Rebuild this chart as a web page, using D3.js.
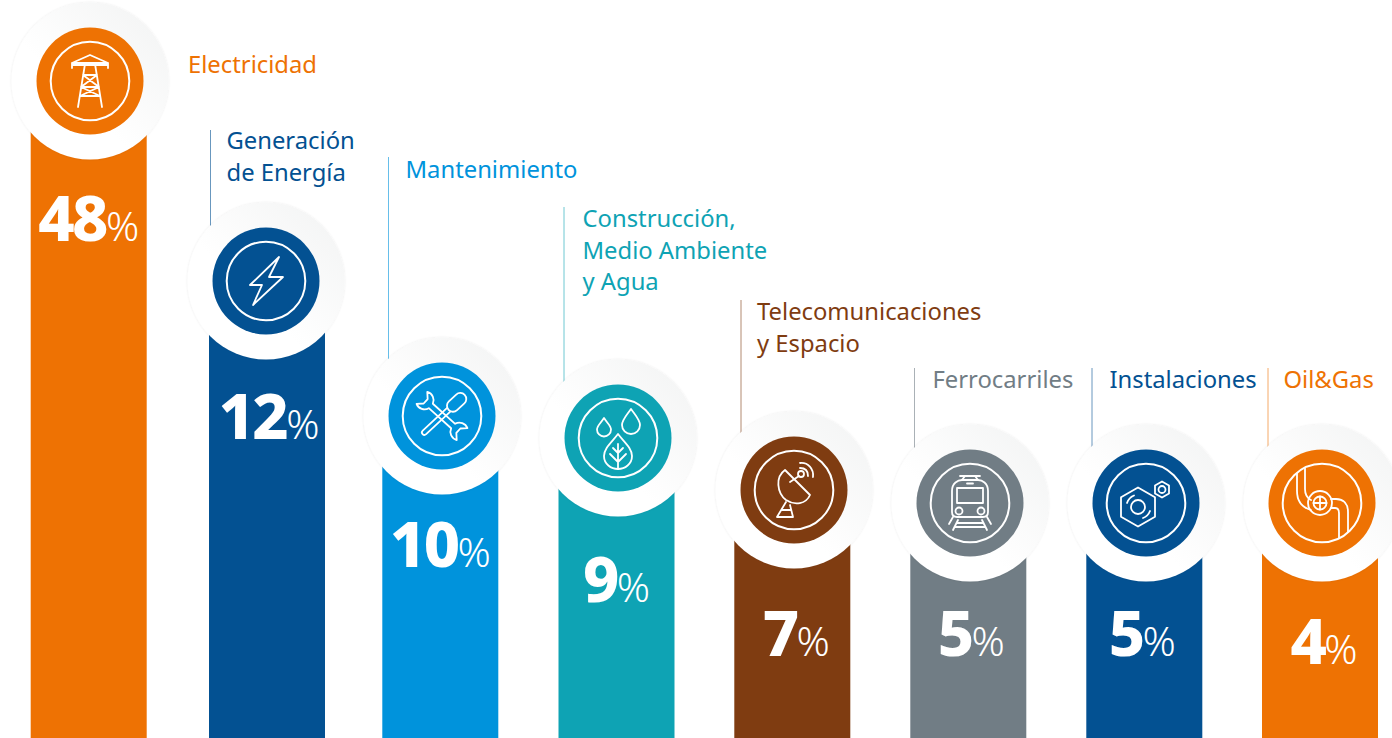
<!DOCTYPE html>
<html>
<head>
<meta charset="utf-8">
<script src="https://cdn.jsdelivr.net/npm/d3@7"></script>
<style>
  html, body { margin: 0; padding: 0; background: #fff; overflow: hidden; }
  svg { display: block; }
  text { font-family: "Noto Sans", sans-serif; }
</style>
</head>
<body>
<svg id="chart" width="1392" height="738"></svg>
<script>
const categories = ['Electricidad', 'Generación de Energía', 'Mantenimiento', 'Construcción, Medio Ambiente y Agua',
    'Telecomunicaciones y Espacio', 'Ferrocarriles', 'Instalaciones', 'Oil&Gas'];
const labelLines = [['Electricidad'], ['Generación', 'de Energía'], ['Mantenimiento'], ['Construcción,', 'Medio Ambiente', 'y Agua'],
    ['Telecomunicaciones', 'y Espacio'], ['Ferrocarriles'], ['Instalaciones'], ['Oil&Gas']];
const shares = [48, 12, 10, 9, 7, 5, 5, 4];
const colors = ['#ee7203', '#035192', '#0093dc', '#0ea3b4', '#7f3c11', '#717d85', '#035192', '#ee7203'];
const iconNames = ['tower', 'bolt', 'tools', 'drops', 'dish', 'train', 'nut', 'pipe'];

// layout, the bars are not drawn to a linear scale
const HEIGHT = 738, BAR_WIDTH = 116,
    RING_R = 78.5, DISC_R = 53.5, ICON_R = 39.3;
const barNudge = [-1.3, 1, -1.7, -1.5, -1.7, -1.7, -1.7, -2];
const valueNudge = [0, 2, 0, 0, 4, 3, -2, 4];
const valueDrop = [160, 158, 151, 164, 166, 153, 153, 161];
const labelX = [188, 226.5, 405.5, 582.5, 757, 932.5, 1109.5, 1283.5];
const labelY = [73, 149, 178, 227, 320, 388, 388, 388];
const leaderX = [null, 210.5, 388.5, 564, 741, 914.5, 1092, 1268];
const leaderTop = [null, 130, 157, 207, 300, 368, 368, 368];
const LINE_HEIGHT = 31.7;

const x = d3.scaleBand().domain(d3.range(categories.length)).range([2, 1410]).paddingInner(60 / 176).paddingOuter(30 / 176);
const y = d3.scaleLinear().domain([4, 5, 7, 9, 10, 12, 48]).range([503, 503, 490, 438, 416, 281, 81]);
const center = i => x(i) + x.bandwidth() / 2;

const icons = {
    tower: `<path d="M-18,-13V-18L0,-26L18,-18V-13M-18,-18H18M-18,-16H18"/>
        <path d="M-5,-17L-12,26M5,-17L12,26M-7,-6H7M-9,6H9M-10,15H10M-7,-6L9,6M7,-6L-9,6M-9,6L10,15M9,6L-10,15"/>`,
    bolt: `<path d="M13,-24L-16,4H-4L-13,24L17,-4H3Z"/>`,
    tools: `<g transform="rotate(-43)">
            <rect x="9" y="-6" width="22" height="12" rx="6"/>
            <path d="M9,-2.5H-24a2.5,2.5 0 0 0 0,5H9"/>
        </g>
        <g transform="rotate(42)">
            <path d="M-15,-3H15A8.500,8.500 0 0 1 27,-8L22,-3V3L27,8A8.500,8.500 0 0 1 15,3H-15A8.500,8.500 0 0 1 -27,8L-22,3V-3L-27,-8A8.500,8.500 0 0 1 -15,-3Z"/>
        </g>`,
    drops: `<path d="M-14,-20C-10,-14 -7,-12 -7,-8.500A7,7 0 0 1 -21,-8.500C-21,-12 -18,-14 -14,-20Z"/>
        <path d="M13,-29C18,-22 22,-18 22,-13A9,9 0 0 1 4,-13C4,-18 8,-22 13,-29Z"/>
        <path d="M0,-4C6,4 14,10 14,18C14,26 7,31 0,31C-7,31 -14,26 -14,18C-14,10 -6,4 0,-4Z"/>
        <path d="M0,6V31M0,15L-5,10M0,15L5,10M0,24L-8,16M0,24L8,16"/>`,
    dish: `<path d="M-9,-20L16,5C12,14 1,16 -8,10C-17,3 -19,-13 -9,-20Z"/>
        <path d="M-4,-8L5,-14"/><circle cx="7" cy="-16" r="3"/>
        <path d="M6,-22C11,-22 14,-19 14,-14M6,-27C14,-28 20,-21 19,-13"/>
        <path d="M-8,12L-17,27H-1L-4,15M-12,20H-3"/>`,
    train: `<path d="M-10,-27H10M-5,-27L-8,-23M5,-27L8,-23"/>
        <path d="M-18,-12C-18,-20 -12,-23 -8,-23H8C12,-23 18,-20 18,-12V9C18,12 16,14 13,14H-13C-16,14 -18,12 -18,9Z"/>
        <rect x="-13" y="-15" width="26" height="15"/>
        <path d="M-3,-19.500H3"/>
        <circle cx="-11" cy="8" r="3.500"/><circle cx="11" cy="8" r="3.500"/>
        <path d="M-17,14L-21,21M17,14L21,21M-12,17L-17,27M12,17L17,27M-13,20H13M-15,24H15"/>`,
    nut: `<path d="M-8,-15.500L9,-5.700V13.800L-8,23.500L-25,13.800V-5.700Z"/>
        <circle cx="-8" cy="4" r="7"/>
        <path d="M-19,0A12,12 0 0 1 -12,-7.500M4,8A12,12 0 0 1 -3,15"/>
        <path d="M16,-21.500L23,-17.500V-9.500L16,-5.500L9,-9.500V-17.500Z"/>
        <circle cx="16" cy="-13.500" r="3.500"/>`,
    pipe: `<circle cx="-2" cy="0" r="12"/><circle cx="-2" cy="0" r="6.500"/>
        <path d="M-2,-6.500V6.500M-8.500,0H4.500"/>
        <path d="M-25,-29.500V-12C-25,0 -18,5 -11,7M-17,-34.500V-14C-17,-8 -15,-5 -11,-3"/>
        <path d="M9,-4H14C22,-4 26,1 26,9V28.500M9,5H13C16,5 17,7 17,10V35"/>`
};

const svg = d3.select('svg#chart');
const defs = svg.append('defs');

const ringFill = defs.append('linearGradient')
    .attr('id', 'ring-fill')
    .attr('x1', 0).attr('y1', 1).attr('x2', 1).attr('y2', 0);
ringFill.append('stop').attr('offset', '40%').attr('stop-color', '#ffffff');
ringFill.append('stop').attr('offset', '100%').attr('stop-color', '#f2f3f3');

const ringShadow = defs.append('filter')
    .attr('id', 'ring-shadow')
    .attr('x', '-10%').attr('y', '-10%').attr('width', '120%').attr('height', '120%');
ringShadow.append('feDropShadow')
    .attr('dx', 0).attr('dy', 0).attr('stdDeviation', 1)
    .attr('flood-color', '#000').attr('flood-opacity', 0.1);

const rows = svg.selectAll('g.row')
    .data(shares)
    .join('g')
    .classed('row', true);

// leaders go first so the ring sits on top of them
rows.filter((d, i) => leaderX[i] !== null).append('line')
    .attr('x1', (d, i) => leaderX[i + 1])
    .attr('x2', (d, i) => leaderX[i + 1])
    .attr('y1', (d, i) => leaderTop[i + 1])
    .attr('y2', d => y(d))
    .attr('stroke', (d, i) => colors[i + 1])
    .attr('stroke-opacity', 0.6)
    .attr('stroke-width', 1);

rows.append('rect')
    .attr('x', (d, i) => x(i) + barNudge[i])
    .attr('y', d => y(d))
    .attr('width', BAR_WIDTH)
    .attr('height', d => HEIGHT - y(d))
    .attr('fill', (d, i) => colors[i]);

rows.append('circle')
    .attr('cx', (d, i) => center(i))
    .attr('cy', d => y(d))
    .attr('r', RING_R)
    .attr('fill', 'url(#ring-fill)')
    .attr('filter', 'url(#ring-shadow)');

rows.append('circle')
    .attr('cx', (d, i) => center(i))
    .attr('cy', d => y(d))
    .attr('r', DISC_R)
    .attr('fill', (d, i) => colors[i]);

rows.append('circle')
    .attr('cx', (d, i) => center(i))
    .attr('cy', d => y(d))
    .attr('r', ICON_R)
    .attr('fill', 'none')
    .attr('stroke', '#fff')
    .attr('stroke-width', 2);

rows.append('g')
    .attr('transform', (d, i) => `translate(${center(i)},${y(d)})`)
    .attr('fill', 'none')
    .attr('stroke', '#fff')
    .attr('stroke-width', 1.8)
    .attr('stroke-linejoin', 'round')
    .attr('stroke-linecap', 'round')
    .html((d, i) => icons[iconNames[i]]);

const values = rows.append('text')
    .attr('x', (d, i) => x(i) + barNudge[i] + BAR_WIDTH / 2 + valueNudge[i])
    .attr('y', (d, i) => y(d) + valueDrop[i])
    .attr('text-anchor', 'middle')
    .attr('fill', '#fff');
values.append('tspan')
    .attr('font-size', 63)
    .attr('font-weight', 800)
    .attr('letter-spacing', -2.5)
    .text(d => d);
values.append('tspan')
    .attr('font-size', 41)
    .attr('font-weight', 300)
    .text('%');

rows.append('text')
    .attr('fill', (d, i) => colors[i])
    .attr('font-size', 23.8)
    .selectAll('tspan')
    .data((d, i) => labelLines[i].map((line, k) => ({line, k, i})))
    .join('tspan')
    .attr('x', d => labelX[d.i])
    .attr('y', d => labelY[d.i] + d.k * LINE_HEIGHT)
    .text(d => d.line);
</script>
</body>
</html>
